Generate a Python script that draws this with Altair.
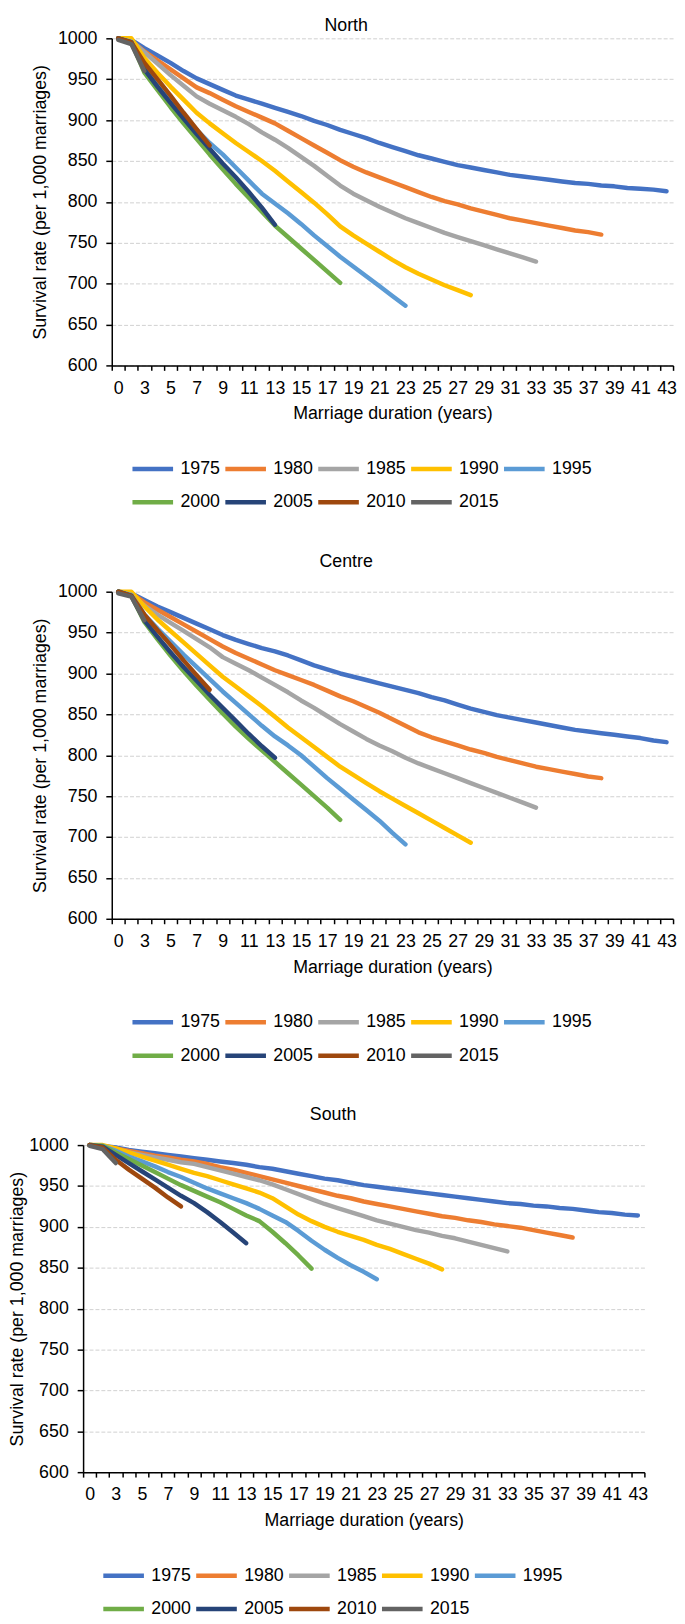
import altair as alt
import pandas as pd

FONT = "Liberation Sans, Arial, Helvetica, sans-serif"

COHORTS = ["1975", "1980", "1985", "1990", "1995", "2000", "2005", "2010", "2015"]
COLORS = ["#4472C4", "#ED7D31", "#A5A5A5", "#FFC000", "#5B9BD5",
          "#70AD47", "#264478", "#9E480E", "#636363"]

# 43 category slots on the x axis (label of every other slot is shown)
CATEGORY_LABELS = ["0", "2", "3", "4", "5", "6", "7", "8", "9", "10", "11", "12", "13",
                   "14", "15", "16", "17", "18", "19", "20", "21", "22", "23", "24", "25",
                   "26", "27", "28", "29", "30", "31", "32", "33", "34", "35", "36", "37",
                   "38", "39", "40", "41", "42", "43"]

Y_TICKS = [600, 650, 700, 750, 800, 850, 900, 950, 1000]

# ---------------- North ----------------
N_1975 = [1000, 998, 988, 979, 970, 960, 951, 944, 937, 930, 925, 920, 915, 910, 905, 899, 894,
          888, 883, 878, 872, 867, 862, 857, 853, 849, 845, 842, 839, 836, 833, 831, 829, 827,
          825, 823, 822, 820, 819, 817, 816, 815, 813]
N_1980 = [1000, 997, 984, 973, 962, 951, 940, 933, 925, 917, 910, 903, 896, 887, 878, 869, 860,
          851, 843, 836, 830, 824, 818, 812, 806, 801, 797, 792, 788, 784, 780, 777, 774, 771,
          768, 765, 763, 760]
N_1985 = [1000, 997, 983, 969, 955, 942, 929, 920, 912, 904, 895, 885, 876, 866, 855, 844, 832,
          820, 810, 802, 794, 787, 780, 774, 768, 762, 757, 752, 747, 742, 737, 732, 727]
N_1990 = [1000, 1000, 976, 958, 941, 925, 909, 896, 884, 872, 861, 850, 838, 825, 812, 799, 785,
          770, 759, 749, 739, 729, 720, 712, 705, 698, 692, 686]
N_1995 = [1000, 996, 964, 942, 923, 905, 888, 872, 858, 842, 826, 810, 798, 786, 773, 759, 746,
          733, 721, 709, 697, 685, 673]
N_2000 = [1000, 995, 958, 937, 916, 896, 877, 858, 840, 822, 805, 788, 771, 757, 743, 729, 715, 701]
N_2005 = [1000, 995, 962, 941, 921, 902, 883, 865, 847, 830, 812, 793, 772]
N_2010 = [1000, 995, 970, 950, 930, 909, 889, 869]
N_2015 = [998, 993, 960]

# ---------------- Centre ----------------
C_1975 = [1000, 998, 990, 982, 975, 968, 961, 954, 947, 941, 936, 931, 927, 922, 916, 910, 905,
          900, 896, 892, 888, 884, 880, 876, 871, 867, 862, 857, 853, 849, 846, 843, 840, 837,
          834, 831, 829, 827, 825, 823, 821, 818, 816]
C_1980 = [1000, 998, 987, 978, 969, 960, 951, 942, 933, 925, 918, 911, 904, 898, 892, 886, 879,
          872, 866, 859, 852, 844, 836, 828, 822, 817, 812, 807, 803, 798, 794, 790, 786, 783,
          780, 777, 774, 772]
C_1985 = [1000, 997, 983, 972, 962, 952, 942, 932, 920, 912, 904, 895, 886, 877, 867, 858, 848,
          838, 829, 820, 812, 805, 797, 790, 784, 778, 772, 766, 760, 754, 748, 742, 736]
C_1990 = [1000, 1000, 982, 966, 952, 938, 924, 910, 896, 884, 872, 860, 847, 834, 822, 810, 798,
          786, 776, 766, 756, 747, 738, 729, 720, 711, 702, 693]
C_1995 = [1000, 996, 972, 955, 939, 923, 908, 893, 878, 864, 850, 836, 823, 812, 800, 786, 772,
          759, 746, 733, 720, 705, 691]
C_2000 = [1000, 995, 963, 942, 922, 903, 885, 868, 851, 835, 820, 806, 792, 778, 764, 750, 736, 721]
C_2005 = [1000, 995, 965, 945, 926, 908, 891, 874, 858, 842, 826, 811, 797]
C_2010 = [1000, 995, 972, 953, 935, 916, 898, 880]
C_2015 = [998, 994, 965]

# ---------------- South ----------------
S_1975 = [1000, 999, 997, 994, 992, 990, 988, 986, 984, 982, 980, 978, 976, 973, 971, 968, 965,
          962, 959, 957, 954, 951, 949, 947, 945, 943, 941, 939, 937, 935, 933, 931, 929, 928,
          926, 925, 923, 922, 920, 918, 917, 915, 914]
S_1980 = [1000, 999, 996, 993, 990, 987, 985, 982, 980, 977, 973, 970, 966, 962, 958, 954, 950,
          946, 942, 938, 935, 931, 928, 925, 922, 919, 916, 913, 911, 908, 906, 903, 901, 899,
          896, 893, 890, 887]
S_1985 = [1000, 999, 995, 991, 988, 985, 982, 979, 977, 973, 969, 965, 961, 957, 952, 946, 940,
          934, 928, 923, 918, 913, 908, 904, 900, 896, 893, 889, 886, 882, 878, 874, 870]
S_1990 = [1000, 1000, 996, 991, 986, 981, 976, 971, 966, 962, 957, 952, 947, 942, 935, 925, 915,
          907, 900, 894, 889, 884, 878, 873, 867, 861, 855, 848]
S_1995 = [1000, 999, 993, 986, 980, 974, 967, 961, 954, 947, 941, 935, 929, 922, 914, 906, 895,
          883, 872, 862, 853, 845, 836]
S_2000 = [1000, 999, 991, 983, 975, 967, 959, 951, 944, 937, 930, 922, 914, 907, 894, 880, 865, 849]
S_2005 = [1000, 998, 988, 978, 968, 958, 948, 938, 929, 918, 906, 893, 880]
S_2010 = [1000, 997, 982, 970, 959, 948, 936, 925]
S_2015 = [999, 995, 978]

NORTH = [N_1975, N_1980, N_1985, N_1990, N_1995, N_2000, N_2005, N_2010, N_2015]
CENTRE = [C_1975, C_1980, C_1985, C_1990, C_1995, C_2000, C_2005, C_2010, C_2015]
SOUTH = [S_1975, S_1980, S_1985, S_1990, S_1995, S_2000, S_2005, S_2010, S_2015]


def build_frame(series):
    rows = []
    for cohort, vals in zip(COHORTS, series):
        for i, v in enumerate(vals):
            rows.append({"cohort": cohort, "slot": i + 1,
                         "duration": CATEGORY_LABELS[i], "rate": v})
    return pd.DataFrame(rows)


n_slots = len(CATEGORY_LABELS)
x_values = [k / 2 for k in range(1, 2 * n_slots + 2)]  # slot edges and centres
labels_js = "[" + ",".join("'" + s + "'" for s in CATEGORY_LABELS) + "]"
label_expr = ("(datum.value % 1 == 0 && datum.value % 2 == 1) ? "
              + labels_js + "[datum.value - 1] : ''")

PLOT_W = 568
PLOT_H = 331


def panel(name, series, shift, ytitle_pad, legend_x, title_offset):
    df = build_frame(series)
    x_scale = alt.Scale(domain=[0.5, n_slots + 0.5], nice=False, zero=False,
                        range=[-shift, PLOT_W - shift])
    y_axis_kw = dict(values=Y_TICKS, format="d",
                     title="Survival rate (per 1,000 marriages)",
                     grid=True, gridDash=[4, 2], gridColor="#D0D0D0", gridWidth=1,
                     tickSize=6, tickWidth=1.5, domainWidth=1.5,
                     labelPadding=9, titlePadding=ytitle_pad)
    if shift:
        y_axis_kw["offset"] = shift
    lines = alt.Chart(df).mark_line(
        strokeWidth=4.5, strokeCap="round", strokeJoin="round"
    ).encode(
        x=alt.X("slot:Q", scale=x_scale,
                axis=alt.Axis(values=x_values, labelExpr=label_expr,
                              title="Marriage duration (years)",
                              grid=False, labelOverlap=False, labelFlush=False,
                              tickSize=5, tickWidth=1.5, domainWidth=1.5,
                              tickOpacity={"condition": {"test": "datum.value % 1 == 0",
                                                         "value": 0},
                                           "value": 1},
                              labelPadding=9, titlePadding=8)),
        y=alt.Y("rate:Q",
                scale=alt.Scale(domain=[600, 1000], nice=False, zero=False),
                axis=alt.Axis(**y_axis_kw)),
        color=alt.Color("cohort:N",
                        scale=alt.Scale(domain=COHORTS, range=COLORS),
                        sort=COHORTS,
                        legend=alt.Legend(orient="none", legendX=legend_x, legendY=418,
                                          direction="horizontal", columns=5, title=None,
                                          symbolType="M-1.37,0H1.37", symbolSize=900,
                                          symbolStrokeWidth=4.5, labelFontSize=18,
                                          labelFont=FONT, labelColor="black",
                                          labelOffset=10.5, columnPadding=-5,
                                          rowPadding=7, padding=0)),
    )
    return lines.properties(
        width=PLOT_W, height=PLOT_H,
        title=alt.TitleParams(name, anchor="middle", frame="bounds", offset=title_offset,
                              dx=-8, fontSize=18, font=FONT, fontWeight="normal",
                              color="black"),
    )


north = panel("North", NORTH, 0, 8, 24, -6)
centre = panel("Centre", CENTRE, 0, 8, 24, 12)
south = panel("South", SOUTH, 29, 2, -5.5, 12)

chart = alt.vconcat(north, centre, south, spacing=42).resolve_scale(
    x="independent", y="independent", color="independent"
).resolve_legend(color="independent").properties(
    padding={"left": 0, "top": 0, "right": 0, "bottom": 0}, background="white"
).configure_view(stroke=None).configure_axis(
    labelFont=FONT, labelFontSize=18, labelColor="black",
    titleFont=FONT, titleFontSize=18, titleFontWeight="normal", titleColor="black",
    domainColor="black", tickColor="black"
)

chart.save("out.html", embed_options={"renderer": "svg", "actions": False})
